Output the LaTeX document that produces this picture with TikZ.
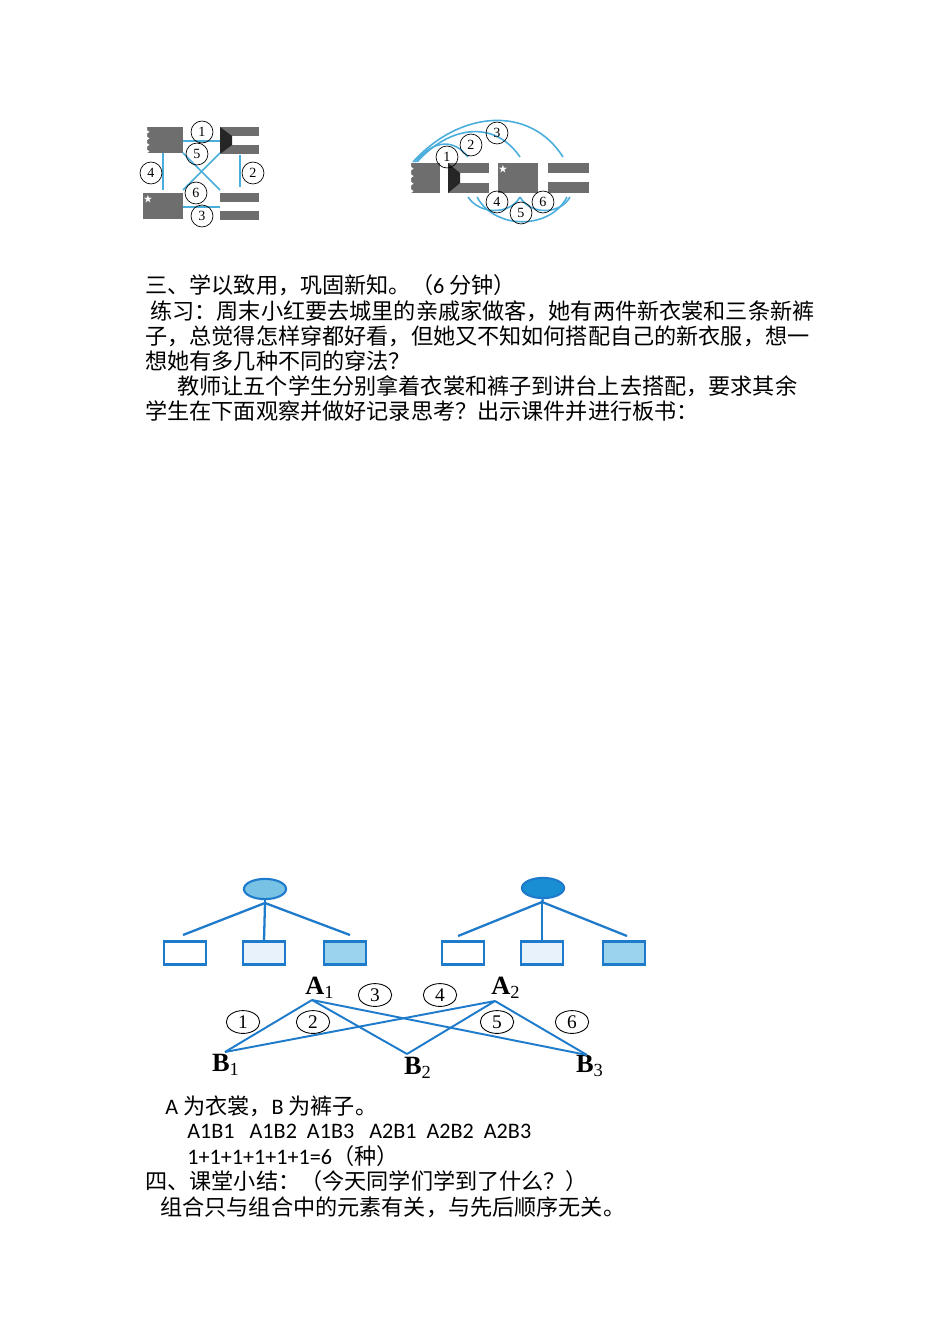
\documentclass[tikz,border=0pt]{standalone}
\usepackage{fontspec}
\setmainfont{Noto Sans CJK SC}
\newfontfamily\lat{Carlito}
\newfontfamily\ser{Liberation Serif}
\usetikzlibrary{shapes.geometric}
\definecolor{ln}{HTML}{4AAEDC}
\definecolor{bl}{HTML}{1E7ACB}
\definecolor{fg}{HTML}{6E6E6E}
\tikzset{
 txt/.style={anchor=west,inner sep=0pt,font=\fontsize{12.6}{14}\selectfont},
 cn/.style={circle,draw=black,line width=0.4pt,inner sep=0pt,minimum size=12.5pt,font=\ser\fontsize{8}{8}\selectfont},
 lk/.style={draw=ln,line width=0.9pt},
 tr/.style={draw=bl,line width=1.3pt},
 bx/.style={draw=bl,line width=1.5pt},
 ab/.style={inner sep=0pt,font=\ser\bfseries\fontsize{15}{15}\selectfont},
 ce/.style={ellipse,draw=black,line width=0.5pt,inner sep=0pt,minimum width=19pt,minimum height=13pt,font=\ser\fontsize{11}{11}\selectfont}
}
\newcommand{\qatar}[4]{\fill[fg] (#1,#2) rectangle (#3,#4);\fill[white] (#1,#2) -- ({#1+4},#2)
 \foreach \k in {1,...,4}{ -- ({#1+4},{#2+(\k-0.5)*(#4-#2)/4}) -- ({#1+6.5},{#2+(\k-0.25)*(#4-#2)/4}) -- ({#1+4},{#2+\k*(#4-#2)/4})} -- (#1,#4) -- cycle;}
\newcommand{\kuwait}[4]{\fill[fg] (#1,#2) rectangle (#3,{#2+(#4-#2)/3}); \fill[fg] (#1,{#4-(#4-#2)/3}) rectangle (#3,#4);
 \fill[black!85] (#1,#2) -- ({#1+12},{#2+(#4-#2)/3}) -- ({#1+12},{#4-(#4-#2)/3}) -- (#1,#4) -- cycle;}
\newcommand{\china}[4]{\fill[fg] (#1,#2) rectangle (#3,#4); \node[text=white,inner sep=0pt,font=\tiny] at ({#1+5},{#2+6}) {★};}
\newcommand{\sgp}[4]{\fill[fg] (#1,#2) rectangle (#3,{#2+(#4-#2)*0.35}); \fill[fg] (#1,{#4-(#4-#2)*0.35}) rectangle (#3,#4);}
\begin{document}
\begin{tikzpicture}[x=0.02cm,y=-0.02cm]
\useasboundingbox (0,0) rectangle (950,1344);
\fill[white] (0,0) rectangle (950,1344);
% left flag diagram
\qatar{143}{127}{183}{153}
\kuwait{220}{127}{259}{154}
\china{143}{193}{183}{219}
\sgp{220}{193}{259}{220}
\coordinate (f1r) at (183,141); \coordinate (f2l) at (220,141);
\draw[lk] (f1r) -- (f2l);
\draw[lk] (163,153) -- (163,190);
\draw[lk] (240,155) -- (240,187);
\draw[lk] (183,153) -- (220,190);
\draw[lk] (220,153) -- (183,190);
\draw[lk] (183,207) -- (220,207);
\node[cn] (l1) at (202,132) {1};
\node[cn] (l5) at (197,154) {5};
\node[cn] (l4) at (151,173) {4};
\node[cn] (l2) at (253,173) {2};
\node[cn] (l6) at (196,193) {6};
\node[cn] (l3) at (202,216) {3};
% right flag diagram
\qatar{407}{163}{440}{193}
\kuwait{448}{163}{489}{193}
\china{498}{163}{538}{193}
\sgp{548}{163}{589}{193}
\draw[lk] (415,162) .. controls (435,138) and (455,140) .. (468,157);
\draw[lk] (417,162) .. controls (450,125) and (495,120) .. (520,157);
\draw[lk] (413,162) .. controls (460,110) and (530,105) .. (563,157);
\draw[lk] (468,197) .. controls (480,215) and (510,215) .. (520,197);
\draw[lk] (520,197) .. controls (530,215) and (560,215) .. (570,197);
\draw[lk] (477,197) .. controls (495,230) and (550,230) .. (567,197);
\node[cn] (r1) at (447,157) {1};
\node[cn] (r2) at (471,145) {2};
\node[cn] (r3) at (497,133) {3};
\node[cn] (r4) at (497,202) {4};
\node[cn] (r5) at (521,213) {5};
\node[cn] (r6) at (543,202) {6};
% text
\node[txt] (t1) at (145,285) {三、学以致用，巩固新知。（{\lat 6} 分钟）};
\node[txt] (t2) at (150,311) {练习：周末小红要去城里的亲戚家做客，她有两件新衣裳和三条新裤};
\node[txt] (t3) at (145,336) {子，总觉得怎样穿都好看，但她又不知如何搭配自己的新衣服，想一};
\node[txt] (t4) at (145,361) {想她有多几种不同的穿法？};
\node[txt] (t5) at (177,386) {教师让五个学生分别拿着衣裳和裤子到讲台上去搭配，要求其余};
\node[txt] (t6) at (145,411) {学生在下面观察并做好记录思考？出示课件并进行板书：};
% trees
\node[ellipse,draw=bl,line width=1.2pt,fill=ln!75,minimum width=24pt,minimum height=11.5pt,inner sep=0pt] (e1) at (265,889) {};
\node[ellipse,draw=bl,line width=1.2pt,fill=bl!85!cyan,minimum width=24pt,minimum height=11.5pt,inner sep=0pt] (e2) at (543,888) {};
\tikzset{tb/.style={bx,minimum width=24pt,minimum height=13pt,inner sep=0pt}}
\node[tb,fill=white] (b1) at (185,953) {};
\node[tb,fill=bl!10] (b2) at (264,953) {};
\node[tb,fill=ln!55] (b3) at (345,953) {};
\node[tb,fill=white] (b4) at (463,953) {};
\node[tb,fill=bl!10] (b5) at (542,953) {};
\node[tb,fill=ln!55] (b6) at (624,953) {};
\coordinate (j1) at (265,903); \coordinate (j2) at (542,902);
\draw[tr] (e1.south) -- (j1);
\draw[tr] (j1) -- (183,935); \draw[tr] (j1) -- (b2.north); \draw[tr] (j1) -- (350,935);
\draw[tr] (e2.south) -- (j2);
\draw[tr] (j2) -- (458,936); \draw[tr] (j2) -- (b5.north); \draw[tr] (j2) -- (627,936);
% A/B graph
\node[ab] (A1) at (320,988) {A\textsubscript{\mdseries1}};
\node[ab] (A2) at (506,988) {A\textsubscript{\mdseries2}};
\node[ab] (B1) at (226,1065) {B\textsubscript{\mdseries1}};
\node[ab] (B2) at (418,1068) {B\textsubscript{\mdseries2}};
\node[ab] (B3) at (590,1066) {B\textsubscript{\mdseries3}};
\coordinate (a1) at (312,1000); \coordinate (a2) at (495,1001);
\coordinate (p1) at (225,1052); \coordinate (p2) at (407,1054); \coordinate (p3) at (587,1055);
\draw[tr,line width=1.1pt] (a1) -- (p1); \draw[tr,line width=1.1pt] (a1) -- (p2); \draw[tr,line width=1.1pt] (a1) -- (p3);
\draw[tr,line width=1.1pt] (a2) -- (p1); \draw[tr,line width=1.1pt] (a2) -- (p2); \draw[tr,line width=1.1pt] (a2) -- (p3);
\node[ce] (c1) at (243,1022) {1};
\node[ce] (c2) at (313,1022) {2};
\node[ce] (c3) at (375,995) {3};
\node[ce] (c4) at (440,995) {4};
\node[ce] (c5) at (497,1022) {5};
\node[ce] (c6) at (572,1022) {6};
% bottom text
\node[txt] (u1) at (165,1106) {{\lat A} 为衣裳，{\lat B} 为裤子。};
\node[txt] (u2) at (187,1131) {\lat A1B1\ \ \ A1B2\ \ A1B3\ \ \ A2B1\ \ A2B2\ \ A2B3};
\node[txt] (u3) at (187,1156) {{\lat 1+1+1+1+1+1=6}（种）};
\node[txt] (u4) at (145,1181) {四、课堂小结：（今天同学们学到了什么？）};
\node[txt] (u5) at (160,1207) {组合只与组合中的元素有关，与先后顺序无关。};
\end{tikzpicture}
\end{document}
